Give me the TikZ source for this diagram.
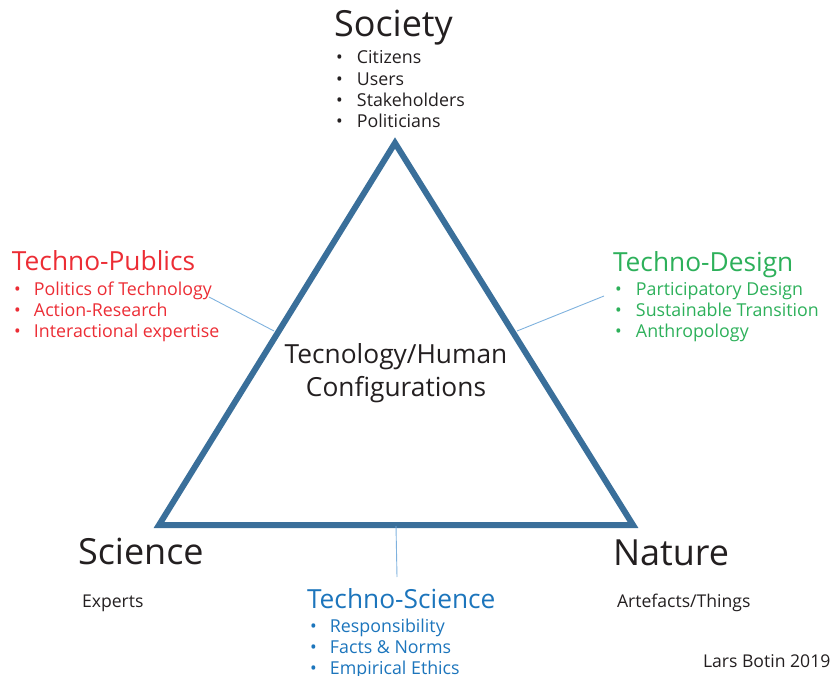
\documentclass[tikz,border=0pt]{standalone}
\usepackage{fontspec}
\setmainfont{Open Sans}
\definecolor{tri}{HTML}{3A6F9A}
\definecolor{conn}{HTML}{7FB2DE}
\definecolor{txt}{HTML}{231F20}
\definecolor{pubred}{HTML}{EC2D35}
\definecolor{desgreen}{HTML}{2DB05A}
\definecolor{sciblue}{HTML}{1C75BC}
\newcommand{\bul}[1]{\llap{\makebox[#1][l]{•}}}
\tikzset{
  lbl/.style={anchor=base west, inner sep=0pt, outer sep=0pt},
  big/.style={lbl, text=txt, font=\fontsize{36}{42}\selectfont},
  head/.style={lbl, font=\fontsize{26.3}{31}\selectfont},
  itm/.style={lbl, font=\fontsize{17.8}{21}\selectfont},
  small/.style={lbl, text=txt, font=\fontsize{17.6}{21}\selectfont},
  connector/.style={draw=conn, line width=0.9pt},
}
\begin{document}
\begin{tikzpicture}[x=1pt,y=-1pt]
\useasboundingbox (0,0) rectangle (832,676);
% triangle
\coordinate (apex) at (395,143);
\coordinate (bl) at (159,525);
\coordinate (br) at (633,525);
\draw[tri, line width=6pt, line join=miter] (apex) -- (bl) -- (br) -- cycle;
% Society
\node[big] (society) at (334,37) {Society};
\node[itm, text=txt] (s1) at (357,64) {\bul{21pt}Citizens};
\node[itm, text=txt] (s2) at (357,86) {\bul{21pt}Users};
\node[itm, text=txt] (s3) at (357,107) {\bul{21pt}Stakeholders};
\node[itm, text=txt] (s4) at (357,128) {\bul{21pt}Politicians};
% Techno-Publics
\node[head, text=pubred] (pub) at (12,271) {Techno-Publics};
\node[itm, text=pubred] (p1) at (34,295) {\bul{20pt}Politics of Technology};
\node[itm, text=pubred] (p2) at (34,316) {\bul{20pt}Action-Research};
\node[itm, text=pubred] (p3) at (34,337) {\bul{20pt}Interactional expertise};
% Techno-Design
\node[head, text=desgreen] (des) at (613,272) {Techno-Design};
\node[itm, text=desgreen] (d1) at (636,295) {\bul{21pt}Participatory Design};
\node[itm, text=desgreen] (d2) at (636,316) {\bul{21pt}Sustainable Transition};
\node[itm, text=desgreen] (d3) at (636,337) {\bul{21pt}Anthropology};
% centre
\node[head, text=txt, anchor=base] (c1) at (396,363) {Tecnology/Human};
\node[head, text=txt, anchor=base] (c2) at (396,396) {Configurations};
% Science / Nature
\node[big] (science) at (78,564) {Science};
\node[small] (experts) at (82,607) {Experts};
\node[big] (nature) at (613,565) {Nature};
\node[small] (things) at (617,607) {Artefacts/Things};
% Techno-Science
\node[head, text=sciblue] (sci) at (307,608) {Techno-Science};
\node[itm, text=sciblue] (t1) at (330,632) {\bul{20pt}Responsibility};
\node[itm, text=sciblue] (t2) at (330,653) {\bul{20pt}Facts \& Norms};
\node[itm, text=sciblue] (t3) at (330,674) {\bul{20pt}Empirical Ethics};
% signature
\node[small] (sig) at (703,667) {Lars Botin 2019};
% connectors
\coordinate (pubend) at (209,297);
\coordinate (pubtri) at (274,331);
\coordinate (desend) at (604,296);
\coordinate (destri) at (517,331);
\coordinate (scitop) at (396,526);
\coordinate (sciend) at (397,577);
\draw[connector] (pubend) -- (pubtri);
\draw[connector] (desend) -- (destri);
\draw[connector] (scitop) -- (sciend);
\end{tikzpicture}
\end{document}
